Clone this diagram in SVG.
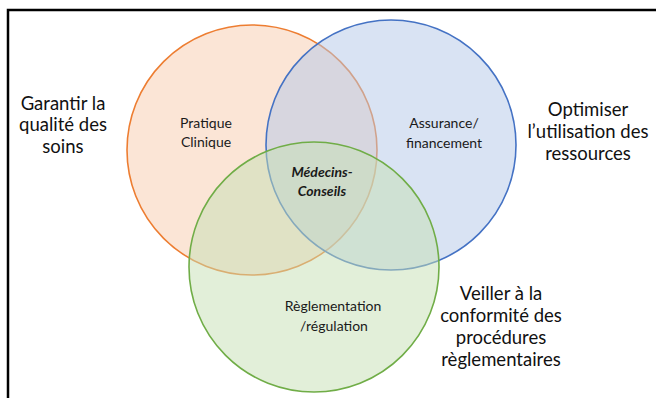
<svg xmlns="http://www.w3.org/2000/svg" width="656" height="398" viewBox="0 0 656 398">
<style>
.c{stroke-width:1.6}
.inner{font-family:Lato,"Open Sans","Liberation Sans",sans-serif;font-size:14px;fill:#1a1a1a;text-anchor:middle}
.core{font-weight:bold;font-style:italic}
.side{font-family:Lato,"Open Sans","Liberation Sans",sans-serif;font-size:18.5px;fill:#111;text-anchor:middle}
</style>
<rect x="0" y="0" width="656" height="398" fill="#fff"/>
<rect x="8" y="10" width="700" height="500" fill="none" stroke="#000" stroke-width="2.5"/>
<g id="pratique-clinique">
<circle class="c" cx="252" cy="150" r="125" fill="#F8CBAD" fill-opacity="0.5" stroke="#ED7D31"/>
</g>
<g id="assurance-financement">
<circle class="c" cx="391" cy="145" r="125" fill="#B4C7E7" fill-opacity="0.5" stroke="#4472C4"/>
</g>
<g id="reglementation-regulation">
<circle class="c" cx="314" cy="267" r="125" fill="#C5E0B4" fill-opacity="0.5" stroke="#70AD47"/>
</g>
<g id="labels-inner">
<text class="inner" x="206" y="128">Pratique</text>
<text class="inner" x="206" y="147">Clinique</text>
<text class="inner" x="444" y="128">Assurance/</text>
<text class="inner" x="444" y="148">financement</text>
<text class="inner core" x="322" y="177">Médecins-</text>
<text class="inner core" x="322" y="196">Conseils</text>
<text class="inner" x="333" y="311">Règlementation</text>
<text class="inner" x="334" y="331">/régulation</text>
</g>
<g id="garantir">
<text class="side" x="63" y="110">Garantir la</text>
<text class="side" x="63" y="131">qualité des</text>
<text class="side" x="63" y="153">soins</text>
</g>
<g id="optimiser">
<text class="side" x="588" y="116">Optimiser</text>
<text class="side" x="588" y="138">l’utilisation des</text>
<text class="side" x="588" y="160">ressources</text>
</g>
<g id="veiller">
<text class="side" x="501" y="300">Veiller à la</text>
<text class="side" x="501" y="322">conformité des</text>
<text class="side" x="501" y="344">procédures</text>
<text class="side" x="501" y="366">règlementaires</text>
</g>
<g id="connectors"/>
</svg>
